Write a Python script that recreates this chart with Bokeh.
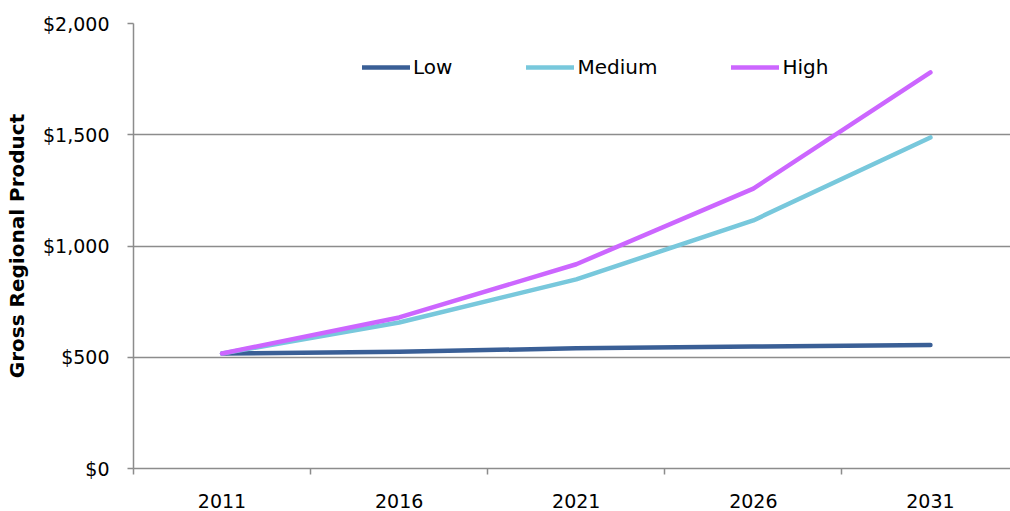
from bokeh.plotting import figure
from bokeh.models import Range1d, FixedTicker, NumeralTickFormatter, Legend, LegendItem
from bokeh.embed import file_html
from bokeh.resources import INLINE

years = ["2011", "2016", "2021", "2026", "2031"]
low = [517, 525, 540, 548, 555]
medium = [517, 656, 850, 1115, 1488]
high = [517, 679, 918, 1258, 1780]

series_names = ["Low", "Medium", "High"]
series_colors = ["#3A5F96", "#78C8DC", "#CC66FF"]

FONT = "DejaVu Sans"
GRID = "#8C8C8C"

xs = list(range(len(years)))

p = figure(width=1010, height=511, output_backend="svg", toolbar_location=None,
           x_range=Range1d(-0.5, 4.452), y_range=Range1d(0, 2000),
           min_border_left=133, min_border_right=0, min_border_top=23, min_border_bottom=43)
p.outline_line_color = None
p.background_fill_color = "white"
p.border_fill_color = "white"

renderers = []
for name, vals, col in zip(series_names, [low, medium, high], series_colors):
    r = p.line(xs, vals, line_color=col, line_width=4.5, line_cap="round", line_join="round")
    renderers.append((name, r))

# x axis
xa = p.xaxis[0]
xa.ticker = FixedTicker(ticks=xs, minor_ticks=[i - 0.5 for i in xs])
xa.major_label_overrides = {i: y for i, y in enumerate(years)}
xa.major_tick_line_color = None
xa.major_tick_out = 0
xa.major_tick_in = 0
xa.minor_tick_out = 6
xa.minor_tick_in = 0
xa.minor_tick_line_color = GRID
xa.minor_tick_line_width = 1.5
xa.axis_line_color = GRID
xa.axis_line_width = 1.5
xa.major_label_text_font = FONT
xa.major_label_text_font_size = "19px"
xa.major_label_text_color = "black"
xa.major_label_standoff = 19

# y axis
ya = p.yaxis[0]
ya.ticker = FixedTicker(ticks=[0, 500, 1000, 1500, 2000])
ya.formatter = NumeralTickFormatter(format="$0,0")
ya.major_tick_out = 6
ya.major_tick_in = 0
ya.major_tick_line_color = GRID
ya.major_tick_line_width = 1.5
ya.minor_tick_line_color = None
ya.axis_line_color = GRID
ya.axis_line_width = 1.5
ya.major_label_text_font = FONT
ya.major_label_text_font_size = "19px"
ya.major_label_text_color = "black"
ya.major_label_standoff = 18
ya.axis_label = "Gross Regional Product"
ya.axis_label_text_font = FONT
ya.axis_label_text_font_style = "bold"
ya.axis_label_text_font_size = "20px"
ya.axis_label_text_color = "black"
ya.axis_label_standoff = 11

p.xgrid.grid_line_color = None
p.ygrid.grid_line_color = GRID
p.ygrid.grid_line_width = 1.5
p.ygrid.ticker = FixedTicker(ticks=[0, 500, 1000, 1500, 2000])

legend = Legend(items=[LegendItem(label=n, renderers=[r]) for n, r in renderers],
                orientation="horizontal", location=(229, 389),
                glyph_width=48, glyph_height=22, label_standoff=3, spacing=74,
                padding=0, margin=0, border_line_color=None, background_fill_alpha=0,
                label_text_font=FONT, label_text_font_size="20px", label_text_color="black")
p.add_layout(legend)

open("out.html", "w").write(file_html(p, INLINE))
